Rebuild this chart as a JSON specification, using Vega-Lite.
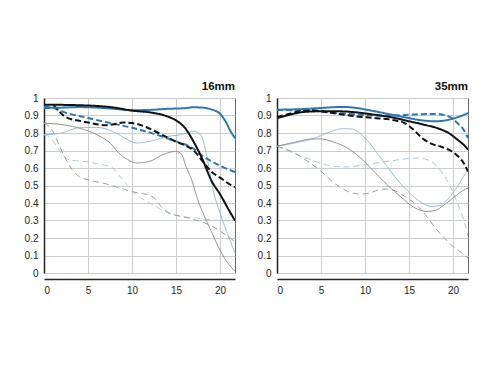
{
  "$schema": "https://vega.github.io/schema/vega-lite/v6.json",
  "padding": {"left": 23, "top": 80, "right": 5, "bottom": 5},
  "data": {"values": [
    {"p":"16mm","s":"f8 30 M","x":0,"y":0.79},{"p":"16mm","s":"f8 30 M","x":0.8,"y":0.77},{"p":"16mm","s":"f8 30 M","x":1.5,"y":0.72},{"p":"16mm","s":"f8 30 M","x":2.2,"y":0.67},{"p":"16mm","s":"f8 30 M","x":3,"y":0.645},{"p":"16mm","s":"f8 30 M","x":4,"y":0.64},{"p":"16mm","s":"f8 30 M","x":5,"y":0.635},{"p":"16mm","s":"f8 30 M","x":6,"y":0.625},{"p":"16mm","s":"f8 30 M","x":7,"y":0.615},{"p":"16mm","s":"f8 30 M","x":7.8,"y":0.6},{"p":"16mm","s":"f8 30 M","x":8.5,"y":0.56},{"p":"16mm","s":"f8 30 M","x":9.3,"y":0.51},{"p":"16mm","s":"f8 30 M","x":10,"y":0.47},{"p":"16mm","s":"f8 30 M","x":11,"y":0.43},{"p":"16mm","s":"f8 30 M","x":12,"y":0.4},{"p":"16mm","s":"f8 30 M","x":13,"y":0.37},{"p":"16mm","s":"f8 30 M","x":14,"y":0.345},{"p":"16mm","s":"f8 30 M","x":15,"y":0.33},{"p":"16mm","s":"f8 30 M","x":16,"y":0.32},{"p":"16mm","s":"f8 30 M","x":17,"y":0.315},{"p":"16mm","s":"f8 30 M","x":18,"y":0.31},{"p":"16mm","s":"f8 30 M","x":19,"y":0.305},{"p":"16mm","s":"f8 30 M","x":20,"y":0.3},{"p":"16mm","s":"f8 30 M","x":21,"y":0.3},{"p":"16mm","s":"f8 30 M","x":21.7,"y":0.3},
    {"p":"16mm","s":"open 30 M","x":0,"y":0.857},{"p":"16mm","s":"open 30 M","x":1,"y":0.81},{"p":"16mm","s":"open 30 M","x":1.8,"y":0.72},{"p":"16mm","s":"open 30 M","x":2.5,"y":0.65},{"p":"16mm","s":"open 30 M","x":3.2,"y":0.59},{"p":"16mm","s":"open 30 M","x":4,"y":0.55},{"p":"16mm","s":"open 30 M","x":5,"y":0.533},{"p":"16mm","s":"open 30 M","x":7,"y":0.51},{"p":"16mm","s":"open 30 M","x":9,"y":0.48},{"p":"16mm","s":"open 30 M","x":10,"y":0.465},{"p":"16mm","s":"open 30 M","x":11,"y":0.455},{"p":"16mm","s":"open 30 M","x":12,"y":0.445},{"p":"16mm","s":"open 30 M","x":12.7,"y":0.42},{"p":"16mm","s":"open 30 M","x":13.3,"y":0.38},{"p":"16mm","s":"open 30 M","x":14,"y":0.35},{"p":"16mm","s":"open 30 M","x":15,"y":0.33},{"p":"16mm","s":"open 30 M","x":16,"y":0.32},{"p":"16mm","s":"open 30 M","x":17,"y":0.305},{"p":"16mm","s":"open 30 M","x":18,"y":0.29},{"p":"16mm","s":"open 30 M","x":19,"y":0.27},{"p":"16mm","s":"open 30 M","x":20,"y":0.24},{"p":"16mm","s":"open 30 M","x":21,"y":0.205},{"p":"16mm","s":"open 30 M","x":21.7,"y":0.18},
    {"p":"16mm","s":"f8 30 S","x":0,"y":0.79},{"p":"16mm","s":"f8 30 S","x":2,"y":0.8},{"p":"16mm","s":"f8 30 S","x":4,"y":0.83},{"p":"16mm","s":"f8 30 S","x":6,"y":0.832},{"p":"16mm","s":"f8 30 S","x":8,"y":0.804},{"p":"16mm","s":"f8 30 S","x":9.5,"y":0.762},{"p":"16mm","s":"f8 30 S","x":10.5,"y":0.743},{"p":"16mm","s":"f8 30 S","x":12,"y":0.752},{"p":"16mm","s":"f8 30 S","x":14,"y":0.78},{"p":"16mm","s":"f8 30 S","x":15.5,"y":0.79},{"p":"16mm","s":"f8 30 S","x":17,"y":0.81},{"p":"16mm","s":"f8 30 S","x":17.8,"y":0.79},{"p":"16mm","s":"f8 30 S","x":18.5,"y":0.667},{"p":"16mm","s":"f8 30 S","x":19.2,"y":0.476},{"p":"16mm","s":"f8 30 S","x":20,"y":0.343},{"p":"16mm","s":"f8 30 S","x":20.8,"y":0.23},{"p":"16mm","s":"f8 30 S","x":21.7,"y":0.114},
    {"p":"16mm","s":"open 30 S","x":0,"y":0.857},{"p":"16mm","s":"open 30 S","x":2,"y":0.848},{"p":"16mm","s":"open 30 S","x":4,"y":0.828},{"p":"16mm","s":"open 30 S","x":6,"y":0.79},{"p":"16mm","s":"open 30 S","x":7.5,"y":0.743},{"p":"16mm","s":"open 30 S","x":8.5,"y":0.686},{"p":"16mm","s":"open 30 S","x":9.5,"y":0.648},{"p":"16mm","s":"open 30 S","x":10.5,"y":0.629},{"p":"16mm","s":"open 30 S","x":12,"y":0.638},{"p":"16mm","s":"open 30 S","x":13.5,"y":0.676},{"p":"16mm","s":"open 30 S","x":15,"y":0.695},{"p":"16mm","s":"open 30 S","x":15.6,"y":0.68},{"p":"16mm","s":"open 30 S","x":16.2,"y":0.6},{"p":"16mm","s":"open 30 S","x":16.8,"y":0.53},{"p":"16mm","s":"open 30 S","x":17.4,"y":0.43},{"p":"16mm","s":"open 30 S","x":18,"y":0.35},{"p":"16mm","s":"open 30 S","x":18.9,"y":0.25},{"p":"16mm","s":"open 30 S","x":19.8,"y":0.15},{"p":"16mm","s":"open 30 S","x":20.7,"y":0.07},{"p":"16mm","s":"open 30 S","x":21.7,"y":0.01},
    {"p":"16mm","s":"f8 10 M","x":0,"y":0.95},{"p":"16mm","s":"f8 10 M","x":1,"y":0.945},{"p":"16mm","s":"f8 10 M","x":2,"y":0.924},{"p":"16mm","s":"f8 10 M","x":5,"y":0.886},{"p":"16mm","s":"f8 10 M","x":7.5,"y":0.857},{"p":"16mm","s":"f8 10 M","x":10,"y":0.83},{"p":"16mm","s":"f8 10 M","x":12.5,"y":0.795},{"p":"16mm","s":"f8 10 M","x":15,"y":0.752},{"p":"16mm","s":"f8 10 M","x":17,"y":0.71},{"p":"16mm","s":"f8 10 M","x":18,"y":0.67},{"p":"16mm","s":"f8 10 M","x":19,"y":0.64},{"p":"16mm","s":"f8 10 M","x":20,"y":0.613},{"p":"16mm","s":"f8 10 M","x":21.7,"y":0.577},
    {"p":"16mm","s":"open 10 M","x":1.1,"y":0.96},{"p":"16mm","s":"open 10 M","x":1.6,"y":0.93},{"p":"16mm","s":"open 10 M","x":2.2,"y":0.9},{"p":"16mm","s":"open 10 M","x":3,"y":0.88},{"p":"16mm","s":"open 10 M","x":4,"y":0.87},{"p":"16mm","s":"open 10 M","x":5,"y":0.86},{"p":"16mm","s":"open 10 M","x":6,"y":0.85},{"p":"16mm","s":"open 10 M","x":7,"y":0.845},{"p":"16mm","s":"open 10 M","x":8,"y":0.85},{"p":"16mm","s":"open 10 M","x":9,"y":0.86},{"p":"16mm","s":"open 10 M","x":10,"y":0.857},{"p":"16mm","s":"open 10 M","x":11,"y":0.845},{"p":"16mm","s":"open 10 M","x":12,"y":0.825},{"p":"16mm","s":"open 10 M","x":13,"y":0.8},{"p":"16mm","s":"open 10 M","x":14,"y":0.775},{"p":"16mm","s":"open 10 M","x":15,"y":0.75},{"p":"16mm","s":"open 10 M","x":16,"y":0.73},{"p":"16mm","s":"open 10 M","x":17,"y":0.7},{"p":"16mm","s":"open 10 M","x":18,"y":0.64},{"p":"16mm","s":"open 10 M","x":19,"y":0.58},{"p":"16mm","s":"open 10 M","x":20,"y":0.545},{"p":"16mm","s":"open 10 M","x":21,"y":0.51},{"p":"16mm","s":"open 10 M","x":21.7,"y":0.49},
    {"p":"16mm","s":"f8 10 S","x":0,"y":0.943},{"p":"16mm","s":"f8 10 S","x":2,"y":0.945},{"p":"16mm","s":"f8 10 S","x":4,"y":0.948},{"p":"16mm","s":"f8 10 S","x":6,"y":0.945},{"p":"16mm","s":"f8 10 S","x":8,"y":0.938},{"p":"16mm","s":"f8 10 S","x":10,"y":0.93},{"p":"16mm","s":"f8 10 S","x":12,"y":0.932},{"p":"16mm","s":"f8 10 S","x":14,"y":0.938},{"p":"16mm","s":"f8 10 S","x":16,"y":0.942},{"p":"16mm","s":"f8 10 S","x":17,"y":0.947},{"p":"16mm","s":"f8 10 S","x":18,"y":0.945},{"p":"16mm","s":"f8 10 S","x":19,"y":0.935},{"p":"16mm","s":"f8 10 S","x":20,"y":0.91},{"p":"16mm","s":"f8 10 S","x":20.7,"y":0.86},{"p":"16mm","s":"f8 10 S","x":21.2,"y":0.81},{"p":"16mm","s":"f8 10 S","x":21.7,"y":0.77},
    {"p":"16mm","s":"open 10 S","x":0,"y":0.962},{"p":"16mm","s":"open 10 S","x":5,"y":0.957},{"p":"16mm","s":"open 10 S","x":8,"y":0.945},{"p":"16mm","s":"open 10 S","x":10,"y":0.928},{"p":"16mm","s":"open 10 S","x":12,"y":0.918},{"p":"16mm","s":"open 10 S","x":14,"y":0.895},{"p":"16mm","s":"open 10 S","x":15,"y":0.872},{"p":"16mm","s":"open 10 S","x":16,"y":0.83},{"p":"16mm","s":"open 10 S","x":17,"y":0.75},{"p":"16mm","s":"open 10 S","x":18,"y":0.65},{"p":"16mm","s":"open 10 S","x":19,"y":0.53},{"p":"16mm","s":"open 10 S","x":20,"y":0.45},{"p":"16mm","s":"open 10 S","x":21,"y":0.36},{"p":"16mm","s":"open 10 S","x":21.7,"y":0.3},
    {"p":"35mm","s":"f8 30 M","x":0,"y":0.724},{"p":"35mm","s":"f8 30 M","x":2,"y":0.682},{"p":"35mm","s":"f8 30 M","x":4,"y":0.644},{"p":"35mm","s":"f8 30 M","x":6,"y":0.613},{"p":"35mm","s":"f8 30 M","x":8,"y":0.606},{"p":"35mm","s":"f8 30 M","x":10,"y":0.619},{"p":"35mm","s":"f8 30 M","x":12,"y":0.634},{"p":"35mm","s":"f8 30 M","x":14,"y":0.648},{"p":"35mm","s":"f8 30 M","x":16,"y":0.657},{"p":"35mm","s":"f8 30 M","x":17.5,"y":0.638},{"p":"35mm","s":"f8 30 M","x":18.5,"y":0.59},{"p":"35mm","s":"f8 30 M","x":19.5,"y":0.514},{"p":"35mm","s":"f8 30 M","x":20.5,"y":0.4},{"p":"35mm","s":"f8 30 M","x":21.2,"y":0.305},{"p":"35mm","s":"f8 30 M","x":21.7,"y":0.21},
    {"p":"35mm","s":"open 30 M","x":0,"y":0.724},{"p":"35mm","s":"open 30 M","x":2,"y":0.686},{"p":"35mm","s":"open 30 M","x":3.5,"y":0.638},{"p":"35mm","s":"open 30 M","x":5,"y":0.581},{"p":"35mm","s":"open 30 M","x":6.5,"y":0.514},{"p":"35mm","s":"open 30 M","x":8,"y":0.467},{"p":"35mm","s":"open 30 M","x":9.5,"y":0.451},{"p":"35mm","s":"open 30 M","x":10.5,"y":0.457},{"p":"35mm","s":"open 30 M","x":12,"y":0.48},{"p":"35mm","s":"open 30 M","x":13,"y":0.476},{"p":"35mm","s":"open 30 M","x":14.5,"y":0.438},{"p":"35mm","s":"open 30 M","x":16,"y":0.381},{"p":"35mm","s":"open 30 M","x":17,"y":0.324},{"p":"35mm","s":"open 30 M","x":18,"y":0.257},{"p":"35mm","s":"open 30 M","x":19,"y":0.2},{"p":"35mm","s":"open 30 M","x":20,"y":0.152},{"p":"35mm","s":"open 30 M","x":21,"y":0.114},{"p":"35mm","s":"open 30 M","x":21.7,"y":0.086},
    {"p":"35mm","s":"f8 30 S","x":0,"y":0.724},{"p":"35mm","s":"f8 30 S","x":2,"y":0.743},{"p":"35mm","s":"f8 30 S","x":4,"y":0.766},{"p":"35mm","s":"f8 30 S","x":5.5,"y":0.796},{"p":"35mm","s":"f8 30 S","x":6.5,"y":0.815},{"p":"35mm","s":"f8 30 S","x":7.5,"y":0.825},{"p":"35mm","s":"f8 30 S","x":8.5,"y":0.823},{"p":"35mm","s":"f8 30 S","x":9.5,"y":0.794},{"p":"35mm","s":"f8 30 S","x":10.5,"y":0.743},{"p":"35mm","s":"f8 30 S","x":11.5,"y":0.676},{"p":"35mm","s":"f8 30 S","x":12.5,"y":0.61},{"p":"35mm","s":"f8 30 S","x":13.5,"y":0.543},{"p":"35mm","s":"f8 30 S","x":14.5,"y":0.486},{"p":"35mm","s":"f8 30 S","x":15.5,"y":0.438},{"p":"35mm","s":"f8 30 S","x":16.5,"y":0.4},{"p":"35mm","s":"f8 30 S","x":17.5,"y":0.381},{"p":"35mm","s":"f8 30 S","x":18.5,"y":0.385},{"p":"35mm","s":"f8 30 S","x":19.5,"y":0.429},{"p":"35mm","s":"f8 30 S","x":20.5,"y":0.495},{"p":"35mm","s":"f8 30 S","x":21.2,"y":0.552},{"p":"35mm","s":"f8 30 S","x":21.7,"y":0.59},
    {"p":"35mm","s":"open 30 S","x":0,"y":0.724},{"p":"35mm","s":"open 30 S","x":2,"y":0.747},{"p":"35mm","s":"open 30 S","x":4,"y":0.766},{"p":"35mm","s":"open 30 S","x":5,"y":0.766},{"p":"35mm","s":"open 30 S","x":6.5,"y":0.747},{"p":"35mm","s":"open 30 S","x":8,"y":0.714},{"p":"35mm","s":"open 30 S","x":9.5,"y":0.657},{"p":"35mm","s":"open 30 S","x":11,"y":0.581},{"p":"35mm","s":"open 30 S","x":12.5,"y":0.505},{"p":"35mm","s":"open 30 S","x":14,"y":0.438},{"p":"35mm","s":"open 30 S","x":15.5,"y":0.377},{"p":"35mm","s":"open 30 S","x":17,"y":0.352},{"p":"35mm","s":"open 30 S","x":18,"y":0.358},{"p":"35mm","s":"open 30 S","x":19,"y":0.39},{"p":"35mm","s":"open 30 S","x":20,"y":0.429},{"p":"35mm","s":"open 30 S","x":21,"y":0.467},{"p":"35mm","s":"open 30 S","x":21.7,"y":0.486},
    {"p":"35mm","s":"f8 10 M","x":0,"y":0.933},{"p":"35mm","s":"f8 10 M","x":2,"y":0.93},{"p":"35mm","s":"f8 10 M","x":4,"y":0.928},{"p":"35mm","s":"f8 10 M","x":6,"y":0.918},{"p":"35mm","s":"f8 10 M","x":8,"y":0.91},{"p":"35mm","s":"f8 10 M","x":10,"y":0.903},{"p":"35mm","s":"f8 10 M","x":12,"y":0.899},{"p":"35mm","s":"f8 10 M","x":14,"y":0.901},{"p":"35mm","s":"f8 10 M","x":16,"y":0.907},{"p":"35mm","s":"f8 10 M","x":18,"y":0.909},{"p":"35mm","s":"f8 10 M","x":19.5,"y":0.895},{"p":"35mm","s":"f8 10 M","x":20.5,"y":0.857},{"p":"35mm","s":"f8 10 M","x":21.2,"y":0.819},{"p":"35mm","s":"f8 10 M","x":21.7,"y":0.771},
    {"p":"35mm","s":"open 10 M","x":0,"y":0.89},{"p":"35mm","s":"open 10 M","x":1,"y":0.905},{"p":"35mm","s":"open 10 M","x":2,"y":0.918},{"p":"35mm","s":"open 10 M","x":3.5,"y":0.933},{"p":"35mm","s":"open 10 M","x":5,"y":0.924},{"p":"35mm","s":"open 10 M","x":7,"y":0.909},{"p":"35mm","s":"open 10 M","x":9,"y":0.895},{"p":"35mm","s":"open 10 M","x":11,"y":0.886},{"p":"35mm","s":"open 10 M","x":13,"y":0.876},{"p":"35mm","s":"open 10 M","x":14.5,"y":0.857},{"p":"35mm","s":"open 10 M","x":15.5,"y":0.819},{"p":"35mm","s":"open 10 M","x":16.5,"y":0.771},{"p":"35mm","s":"open 10 M","x":17.5,"y":0.739},{"p":"35mm","s":"open 10 M","x":18.5,"y":0.724},{"p":"35mm","s":"open 10 M","x":19.5,"y":0.705},{"p":"35mm","s":"open 10 M","x":20.5,"y":0.67},{"p":"35mm","s":"open 10 M","x":21.2,"y":0.629},{"p":"35mm","s":"open 10 M","x":21.7,"y":0.58},
    {"p":"35mm","s":"f8 10 S","x":0,"y":0.933},{"p":"35mm","s":"f8 10 S","x":3,"y":0.937},{"p":"35mm","s":"f8 10 S","x":5,"y":0.943},{"p":"35mm","s":"f8 10 S","x":7.5,"y":0.949},{"p":"35mm","s":"f8 10 S","x":9,"y":0.943},{"p":"35mm","s":"f8 10 S","x":10.5,"y":0.93},{"p":"35mm","s":"f8 10 S","x":12.5,"y":0.91},{"p":"35mm","s":"f8 10 S","x":14.5,"y":0.89},{"p":"35mm","s":"f8 10 S","x":16.5,"y":0.872},{"p":"35mm","s":"f8 10 S","x":18,"y":0.867},{"p":"35mm","s":"f8 10 S","x":19.5,"y":0.876},{"p":"35mm","s":"f8 10 S","x":20.5,"y":0.89},{"p":"35mm","s":"f8 10 S","x":21.7,"y":0.914},
    {"p":"35mm","s":"open 10 S","x":0,"y":0.886},{"p":"35mm","s":"open 10 S","x":1.5,"y":0.905},{"p":"35mm","s":"open 10 S","x":3,"y":0.92},{"p":"35mm","s":"open 10 S","x":5,"y":0.924},{"p":"35mm","s":"open 10 S","x":7,"y":0.924},{"p":"35mm","s":"open 10 S","x":9,"y":0.918},{"p":"35mm","s":"open 10 S","x":11,"y":0.905},{"p":"35mm","s":"open 10 S","x":13,"y":0.89},{"p":"35mm","s":"open 10 S","x":15,"y":0.867},{"p":"35mm","s":"open 10 S","x":17,"y":0.844},{"p":"35mm","s":"open 10 S","x":18.5,"y":0.823},{"p":"35mm","s":"open 10 S","x":19.5,"y":0.8},{"p":"35mm","s":"open 10 S","x":20.5,"y":0.762},{"p":"35mm","s":"open 10 S","x":21.2,"y":0.733},{"p":"35mm","s":"open 10 S","x":21.7,"y":0.705}
  ]},
  "facet": {"column": {"field": "p", "type": "nominal", "header": {"title": null, "labelAnchor": "end", "labelFontWeight": "bold", "labelFontSize": 11.5, "labelFont": "Liberation Sans", "labelColor": "#111", "labelPadding": 0}}},
  "spacing": 20,
  "resolve": {"axis": {"y": "independent"}},
  "spec": {
    "width": 191,
    "height": 175,
    "encoding": {
      "x": {"field": "x", "type": "quantitative", "scale": {"domain": [0, 21.7], "nice": false}, "axis": {"title": null, "values": [0, 5, 10, 15, 20]}},
      "y": {"field": "y", "type": "quantitative", "scale": {"domain": [0, 1], "nice": false}, "axis": {"title": null, "values": [0, 0.1, 0.2, 0.3, 0.4, 0.5, 0.6, 0.7, 0.8, 0.9, 1], "format": "~g"}},
      "color": {"field": "s", "type": "nominal", "legend": null, "scale": {"domain": ["open 10 S", "open 10 M", "f8 10 S", "f8 10 M", "open 30 S", "open 30 M", "f8 30 S", "f8 30 M"], "range": ["#111111", "#111111", "#2a78b6", "#2a78b6", "#8a8a8a", "#a0a0a0", "#8dbbdc", "#a8cbe4"]}},
      "strokeDash": {"field": "s", "type": "nominal", "legend": null, "scale": {"domain": ["open 10 S", "open 10 M", "f8 10 S", "f8 10 M", "open 30 S", "open 30 M", "f8 30 S", "f8 30 M"], "range": [[1, 0], [6, 3], [1, 0], [6, 3], [1, 0], [6, 4], [1, 0], [6, 4]]}}
    },
    "layer": [
      {"transform": [{"filter": {"field": "s", "oneOf": ["open 30 S", "open 30 M", "f8 30 S", "f8 30 M"]}}], "mark": {"type": "line", "interpolate": "monotone", "clip": true, "strokeWidth": 1}},
      {"transform": [{"filter": {"field": "s", "oneOf": ["open 10 S", "open 10 M", "f8 10 S", "f8 10 M"]}}], "mark": {"type": "line", "interpolate": "monotone", "clip": true, "strokeWidth": 2}}
    ]
  },
  "config": {
    "view": {"stroke": "#666", "strokeWidth": 1},
    "axis": {"domainColor": "#222", "domainWidth": 1.5, "gridColor": "#cccccc", "gridWidth": 1, "ticks": false, "labelFont": "Liberation Sans", "labelFontSize": 10, "labelColor": "#222", "labelPadding": 6}
  }
}
